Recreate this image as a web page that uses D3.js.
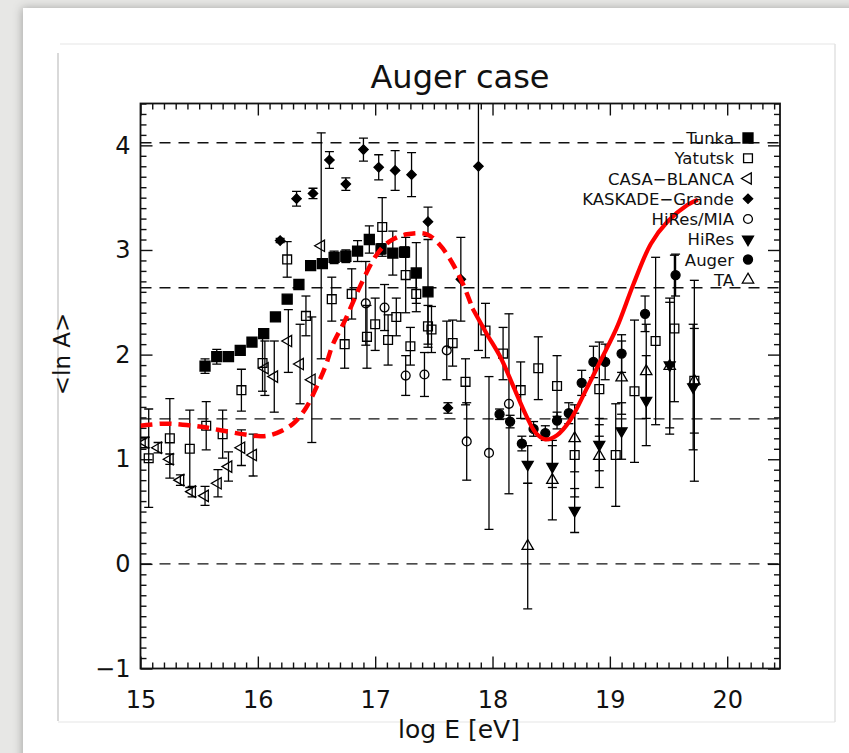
<!DOCTYPE html>
<html>
<head>
<meta charset="utf-8">
<title>Auger case</title>
<style>
  body { margin: 0; background: #e7e7e5; }
  svg { display: block; }
  text { font-family: "DejaVu Sans", sans-serif; fill: #111; }
</style>
</head>
<body>
<script src="https://cdn.jsdelivr.net/npm/d3@7/dist/d3.min.js"></script>
<script>
// ---- data (log E, <ln A>, error) ----
var tunkaE   = [15.55,15.65,15.75,15.85,15.95,16.05,16.15,16.25,16.35,16.45,16.55,16.65,16.75,16.85,16.95,17.05,17.15,17.25,17.35,17.45];
var tunkaLnA = [1.89,1.98,1.98,2.04,2.12,2.20,2.36,2.53,2.67,2.85,2.87,2.93,2.94,2.99,3.10,3.01,2.97,2.98,2.78,2.60];
var tunkaErr = [0.07,0.07,0.03,0.03,0.03,0.03,0.03,0.03,0.04,0.03,0.03,0.06,0.06,0.10,0.13,0.05,0.21,0.05,0.29,0.50];

var yakutskE   = [15.07,15.25,15.42,15.56,15.70,15.86,16.04,16.25,16.41,16.63,16.74,16.80,16.93,17.00,17.06,17.11,17.18,17.26,17.30,17.35,17.45,17.48,17.66,17.77,17.94,18.09,18.24,18.39,18.55,18.70,18.91,19.05,19.21,19.39,19.55,19.72];
var yakutskLnA = [1.01,1.20,1.10,1.32,1.24,1.66,1.92,2.91,2.37,2.53,2.10,2.58,2.17,2.29,3.22,2.14,2.36,2.76,2.08,2.58,2.27,2.24,2.11,1.74,2.23,2.01,1.66,1.87,1.70,1.04,1.67,1.04,1.65,2.13,2.25,1.75];
var yakutskErr = [0.47,0.38,0.37,0.23,0.23,0.20,0.27,0.17,0.19,0.21,0.23,0.24,0.30,0.25,0.28,0.24,0.18,0.36,0.18,0.17,0.20,0.22,0.22,0.22,0.26,0.25,0.27,0.30,0.29,0.40,0.45,0.49,0.68,0.80,0.70,0.96];

var casaE   = [15.04,15.15,15.25,15.34,15.44,15.55,15.66,15.75,15.86,15.96,16.06,16.14,16.26,16.36,16.46,16.54];
var casaLnA = [1.16,1.11,1.00,0.80,0.69,0.65,0.77,0.93,1.11,1.04,1.87,1.79,2.13,1.91,1.76,3.04];
var casaErr = [0.05,0.05,0.05,0.05,0.05,0.09,0.13,0.14,0.17,0.20,0.26,0.34,0.30,0.38,0.60,1.08];

var kaskadeE   = [16.19,16.33,16.47,16.61,16.75,16.90,17.03,17.17,17.31,17.45,17.62,17.73,17.88];
var kaskadeLnA = [3.09,3.49,3.54,3.86,3.63,3.96,3.79,3.76,3.72,3.27,1.49,2.72,3.80];
var kaskadeErr = [0.02,0.07,0.05,0.08,0.06,0.11,0.12,0.19,0.21,0.14,0.05,0.40,1.76];

var miaE   = [16.92,17.08,17.26,17.42,17.61,17.78,17.97,18.14];
var miaLnA = [2.49,2.45,1.80,1.81,2.04,1.17,1.06,1.53];
var miaErr = [0.40,0.22,0.19,0.21,0.28,0.37,0.73,0.86];

var hiresE   = [18.30,18.51,18.70,18.91,19.10,19.31,19.51,19.71];
var hiresLnA = [0.95,0.93,0.51,1.14,1.27,1.56,1.90,1.69];
var hiresErr = [0.18,0.20,0.21,0.25,0.27,0.43,0.60,0.60];

var augerE   = [18.06,18.15,18.25,18.35,18.45,18.55,18.65,18.76,18.86,18.96,19.10,19.30,19.56];
var augerLnA = [1.43,1.36,1.15,1.29,1.25,1.37,1.44,1.73,1.93,1.93,2.01,2.39,2.76];
var augerErr = [0.05,0.06,0.07,0.07,0.07,0.08,0.10,0.12,0.15,0.17,0.18,0.17,0.20];

var taE   = [18.30,18.51,18.70,18.91,19.10,19.31,19.51,19.72];
var taLnA = [0.17,0.80,1.20,1.03,1.78,1.84,1.89,1.75];
var taErr = [0.60,0.38,0.32,0.30,0.35,0.45,0.65,0.50];

// model curve (dashed below the ankle region, solid above)
var dashedE   = [15.0,15.2,15.36,15.52,15.67,15.87,16.04,16.16,16.30,16.41,16.50,16.58,16.64,16.74,16.87,17.01,17.12,17.27,17.44,17.55,17.65,17.75,17.83];
var dashedLnA = [1.32,1.34,1.33,1.31,1.28,1.24,1.22,1.25,1.34,1.49,1.69,1.90,2.10,2.32,2.65,2.95,3.08,3.15,3.15,3.05,2.89,2.67,2.44];
var solidE    = [17.83,17.95,18.07,18.18,18.29,18.37,18.45,18.55,18.66,18.80,18.92,19.06,19.20,19.35,19.49,19.66,19.75];
var solidLnA  = [2.44,2.20,1.97,1.69,1.41,1.25,1.19,1.23,1.37,1.67,1.94,2.26,2.67,3.06,3.27,3.43,3.48];

// reference lines: p, He, N, Fe
var refLnA = [0, 1.386, 2.639, 4.025];

var xMajor = [15, 16, 17, 18, 19, 20];
var yMajor = [-1, 0, 1, 2, 3, 4];

var legendNames = ['Tunka', 'Yatutsk', 'CASA\u2212BLANCA', 'KASKADE\u2212Grande', 'HiRes/MIA', 'HiRes', 'Auger', 'TA'];

// ---- layout ----
var width = 849, height = 753;
var x = d3.scaleLinear().domain([15, 20.45]).range([140.5, 780]);
var y = d3.scaleLinear().domain([-1, 4.4]).range([668.5, 103.5]);

var svg = d3.select('body').append('svg')
    .attr('width', width)
    .attr('height', height);

var defs = svg.append('defs');
var shadow = defs.append('filter').attr('id', 'shadow')
    .attr('x', '-10%').attr('y', '-10%').attr('width', '120%').attr('height', '120%');
shadow.append('feDropShadow')
    .attr('dx', -1).attr('dy', 0).attr('stdDeviation', 5)
    .attr('flood-color', '#000').attr('flood-opacity', 0.28);
defs.append('clipPath').attr('id', 'plotclip')
  .append('rect')
    .attr('x', x.range()[0]).attr('y', y.range()[1])
    .attr('width', x.range()[1] - x.range()[0])
    .attr('height', y.range()[0] - y.range()[1]);

// page card
svg.append('rect').attr('width', width).attr('height', height).attr('fill', '#e7e7e5');
svg.append('rect')
    .attr('x', 23).attr('y', 8).attr('width', 900).attr('height', 900)
    .attr('fill', '#fff').attr('filter', 'url(#shadow)');

// faint frame of the embedded figure
var frame = svg.append('g').attr('fill', 'none');
frame.append('line').attr('x1', 60).attr('x2', 835).attr('y1', 44).attr('y2', 44).attr('stroke', '#eeeeee').attr('stroke-width', 1.5);
frame.append('line').attr('x1', 58).attr('x2', 835).attr('y1', 722).attr('y2', 722).attr('stroke', '#eeeeee').attr('stroke-width', 1.5);
frame.append('line').attr('x1', 58).attr('x2', 58).attr('y1', 53).attr('y2', 721).attr('stroke', '#cdcdcd').attr('stroke-width', 1.5);
frame.append('line').attr('x1', 835).attr('x2', 835).attr('y1', 44).attr('y2', 722).attr('stroke', '#e2e2e2').attr('stroke-width', 1.5);

// ---- axes ----
function minorOf(lo, hi) {
  return d3.range(Math.round(lo * 10), Math.round(hi * 10) + 1)
    .map(function(d) { return d / 10; })
    .filter(function(d) { return Math.abs(d - Math.round(d)) > 1e-6; });
}
var xMinor = minorOf(15, 20.4);
var yMinor = minorOf(-1, 4.4);

function styleAxis(g) {
  g.attr('font-size', 24).attr('font-family', '"DejaVu Sans", sans-serif');
  g.select('.domain').remove();
  g.selectAll('line').attr('stroke', '#111').attr('stroke-width', 1.4);
  g.selectAll('text').attr('fill', '#111');
}

var axes = svg.append('g');

axes.append('g').attr('transform', 'translate(0,' + y.range()[0] + ')')
    .call(d3.axisBottom(x).tickValues(xMajor).tickSize(-12).tickPadding(22).tickFormat(d3.format('d')))
    .call(styleAxis);
axes.append('g').attr('transform', 'translate(0,' + y.range()[0] + ')')
    .call(d3.axisBottom(x).tickValues(xMinor).tickSize(-6).tickFormat(''))
    .call(styleAxis);
axes.append('g').attr('transform', 'translate(0,' + y.range()[1] + ')')
    .call(d3.axisTop(x).tickValues(xMajor).tickSize(-12).tickFormat(''))
    .call(styleAxis);
axes.append('g').attr('transform', 'translate(0,' + y.range()[1] + ')')
    .call(d3.axisTop(x).tickValues(xMinor).tickSize(-6).tickFormat(''))
    .call(styleAxis);

axes.append('g').attr('transform', 'translate(' + x.range()[0] + ',0)')
    .call(d3.axisLeft(y).tickValues(yMajor).tickSize(-12).tickPadding(10).tickFormat(d3.format('d')))
    .call(styleAxis);
axes.append('g').attr('transform', 'translate(' + x.range()[0] + ',0)')
    .call(d3.axisLeft(y).tickValues(yMinor).tickSize(-6).tickFormat(''))
    .call(styleAxis);
axes.append('g').attr('transform', 'translate(' + x.range()[1] + ',0)')
    .call(d3.axisRight(y).tickValues(yMajor).tickSize(-12).tickFormat(''))
    .call(styleAxis);
axes.append('g').attr('transform', 'translate(' + x.range()[1] + ',0)')
    .call(d3.axisRight(y).tickValues(yMinor).tickSize(-6).tickFormat(''))
    .call(styleAxis);

svg.append('rect')
    .attr('x', x.range()[0]).attr('y', y.range()[1])
    .attr('width', x.range()[1] - x.range()[0])
    .attr('height', y.range()[0] - y.range()[1])
    .attr('fill', 'none').attr('stroke', '#111').attr('stroke-width', 1.8);

// titles
svg.append('text')
    .attr('x', 460).attr('y', 88)
    .attr('text-anchor', 'middle')
    .attr('font-size', 32)
    .text('Auger case');
svg.append('text')
    .attr('x', 459).attr('y', 738)
    .attr('text-anchor', 'middle')
    .attr('font-size', 25)
    .text('log E [eV]');
svg.append('text')
    .attr('transform', 'translate(70,354) rotate(-90)')
    .attr('text-anchor', 'middle')
    .attr('font-size', 23)
    .text('<ln A>');

// ---- reference lines ----
var plot = svg.append('g').attr('clip-path', 'url(#plotclip)');
plot.selectAll('line.ref')
    .data(refLnA)
  .enter().append('line')
    .attr('class', 'ref')
    .attr('x1', x.range()[0]).attr('x2', x.range()[1])
    .attr('y1', function(d) { return y(d); })
    .attr('y2', function(d) { return y(d); })
    .attr('stroke', '#111')
    .attr('stroke-width', 1.4)
    .attr('stroke-dasharray', '11,8');

// ---- data series ----
var symSquare = d3.symbol().type(d3.symbolSquare);
var symTri = d3.symbol().type(d3.symbolTriangle);
var symCircle = d3.symbol().type(d3.symbolCircle);

var styles = [
  { path: symSquare.size(100)(), rot: 0, fill: '#000' },    // Tunka
  { path: symSquare.size(78)(), rot: 0, fill: 'none' },     // Yakutsk
  { path: symTri.size(56)(), rot: -90, fill: 'none' },      // CASA-BLANCA
  { path: symSquare.size(44)(), rot: 45, fill: '#000' },    // KASKADE-Grande
  { path: symCircle.size(62)(), rot: 0, fill: 'none' },     // HiRes/MIA
  { path: symTri.size(52)(), rot: 180, fill: '#000' },      // HiRes
  { path: symCircle.size(64)(), rot: 0, fill: '#000' },     // Auger
  { path: symTri.size(56)(), rot: 0, fill: 'none' }         // TA
];

var series = [
  [tunkaE, tunkaLnA, tunkaErr],
  [yakutskE, yakutskLnA, yakutskErr],
  [casaE, casaLnA, casaErr],
  [kaskadeE, kaskadeLnA, kaskadeErr],
  [miaE, miaLnA, miaErr],
  [hiresE, hiresLnA, hiresErr],
  [augerE, augerLnA, augerErr],
  [taE, taLnA, taErr]
];

function drawMarker(sel, st) {
  sel.append('path')
      .attr('d', st.path)
      .attr('transform', function() {
        var t = d3.select(this.parentNode).attr('data-t');
        return t + (st.rot ? ' rotate(' + st.rot + ')' : '');
      })
      .attr('fill', st.fill)
      .attr('stroke', '#000')
      .attr('stroke-width', 1.3);
}

series.forEach(function(s, k) {
  var pts = s[0].map(function(e, i) { return { e: e, v: s[1][i], err: s[2][i] }; });
  var g = plot.append('g');
  var cap = 4.5;

  var bars = g.selectAll('g.bar').data(pts).enter().append('g')
      .attr('stroke', '#000').attr('stroke-width', 1.3);
  bars.append('line')
      .attr('x1', function(d) { return x(d.e); }).attr('x2', function(d) { return x(d.e); })
      .attr('y1', function(d) { return y(d.v - d.err); }).attr('y2', function(d) { return y(d.v + d.err); });
  bars.append('line')
      .attr('x1', function(d) { return x(d.e) - cap; }).attr('x2', function(d) { return x(d.e) + cap; })
      .attr('y1', function(d) { return y(d.v - d.err); }).attr('y2', function(d) { return y(d.v - d.err); });
  bars.append('line')
      .attr('x1', function(d) { return x(d.e) - cap; }).attr('x2', function(d) { return x(d.e) + cap; })
      .attr('y1', function(d) { return y(d.v + d.err); }).attr('y2', function(d) { return y(d.v + d.err); });

  g.selectAll('g.pt').data(pts).enter().append('g')
      .attr('data-t', function(d) { return 'translate(' + x(d.e) + ',' + y(d.v) + ')'; })
      .each(function() { drawMarker(d3.select(this), styles[k]); });
});

// ---- model curve ----
var line = d3.line()
    .x(function(d) { return x(d[0]); })
    .y(function(d) { return y(d[1]); })
    .curve(d3.curveCatmullRom.alpha(0.5));

plot.append('path')
    .datum(d3.zip(dashedE, dashedLnA))
    .attr('d', line)
    .attr('fill', 'none')
    .attr('stroke', '#ff0000')
    .attr('stroke-width', 4.5)
    .attr('stroke-dasharray', '12,7');
plot.append('path')
    .datum(d3.zip(solidE, solidLnA))
    .attr('d', line)
    .attr('fill', 'none')
    .attr('stroke', '#ff0000')
    .attr('stroke-width', 4.2);

// ---- legend ----
var legend = svg.append('g').attr('font-size', 16.5);
legendNames.forEach(function(name, i) {
  var by = 144 + i * 20.25;
  legend.append('text')
      .attr('x', 734).attr('y', by)
      .attr('text-anchor', 'end')
      .text(name);
  legend.append('g')
      .attr('data-t', 'translate(748,' + (by - 6) + ')')
      .call(function(sel) { drawMarker(sel, styles[i]); });
});
</script>
</body>
</html>
